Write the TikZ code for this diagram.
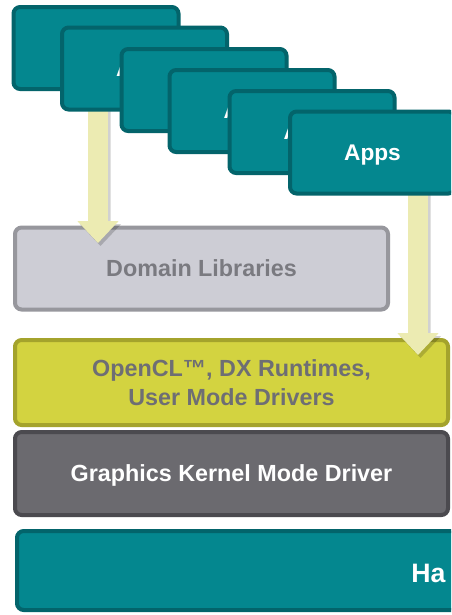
\documentclass[tikz,border=0pt]{standalone}
\usepackage{fontspec}
\setmainfont{Liberation Sans}
\usetikzlibrary{arrows.meta}
\definecolor{tealfill}{HTML}{04878F}
\definecolor{tealline}{HTML}{03646B}
\definecolor{lgfill}{HTML}{CDCDD5}
\definecolor{lgline}{HTML}{97979D}
\definecolor{lgtext}{HTML}{7A7A80}
\definecolor{yfill}{HTML}{D3D340}
\definecolor{yline}{HTML}{A4A32C}
\definecolor{ytext}{HTML}{6E6E74}
\definecolor{dgfill}{HTML}{6B6A6F}
\definecolor{dgline}{HTML}{4B4A4F}
\definecolor{arrcol}{HTML}{ECEBB2}
\begin{document}
\begin{tikzpicture}[x=0.75pt,y=-0.75pt,
  box/.style={draw, line width=3pt, rounded corners=5pt, inner sep=0pt, align=center,
    font=\fontsize{17.5}{21.75}\selectfont\bfseries},
  app/.style={box, fill=tealfill, draw=tealline, text=white,
    minimum width=165*0.75pt, minimum height=82*0.75pt, text depth=0pt,
    font=\fontsize{17}{20}\selectfont\bfseries},
  fatarrow/.style={-{Triangle[width=30pt,length=16.5pt]}, line width=15pt, arrcol},
  fatshadow/.style={-{Triangle[width=30pt,length=16.5pt]}, line width=15pt, black},
]
\fill[white] (0,0) rectangle (451,615);
\useasboundingbox (0,0) rectangle (451,615);
\clip (0,0) rectangle (451,615);

% layers
\node[box, fill=lgfill, draw=lgline, text=lgtext,
  minimum width=373*0.75pt, minimum height=82*0.75pt] (dom) at (201.5,268.5) {Domain Libraries};
\node[box, fill=yfill, draw=yline, text=ytext,
  minimum width=433*0.75pt, minimum height=85*0.75pt] (ocl) at (231.5,382.5) {OpenCL™, DX Runtimes,\\User Mode Drivers};
\node[box, fill=dgfill, draw=dgline, text=white, text depth=0pt,
  minimum width=433*0.75pt, minimum height=83*0.75pt] (gkm) at (231.5,473.5) {Graphics Kernel Mode Driver};
\node[box, fill=tealfill, draw=tealline,
  minimum width=520*0.75pt, minimum height=79*0.75pt, anchor=west] (hw) at (15,570.5) {};
\node[text=white, anchor=west, inner sep=0pt, font=\fontsize{20}{24}\selectfont\bfseries] (hwt) at (411,573) {Ha};

% arrows
\coordinate (a1s) at (98,100);
\coordinate (a1e) at (98,243);
\coordinate (a2s) at (418,185);
\coordinate (a2e) at (418,355);
\begin{scope}[transparency group, opacity=0.18]
  \draw[fatshadow] ([shift={(2.5,3)}]a1s) -- ([shift={(2.5,3)}]a1e);
  \draw[fatshadow] ([shift={(2.5,3)}]a2s) -- ([shift={(2.5,3)}]a2e);
\end{scope}
\draw[fatarrow] (a1s) -- (a1e);
\draw[fatarrow] (a2s) -- (a2e);

% app boxes
\node[app] (b1) at (96,48) {Apps};
\node[app] (b2) at (144.5,68.5) {Apps};
\node[app] (b3) at (204,90) {Apps};
\node[app] (b4) at (252,111) {Apps};
\node[app] (b5) at (312,132) {Apps};
\node[app] (b6) at (372.5,152.5) {Apps};
\end{tikzpicture}
\end{document}
